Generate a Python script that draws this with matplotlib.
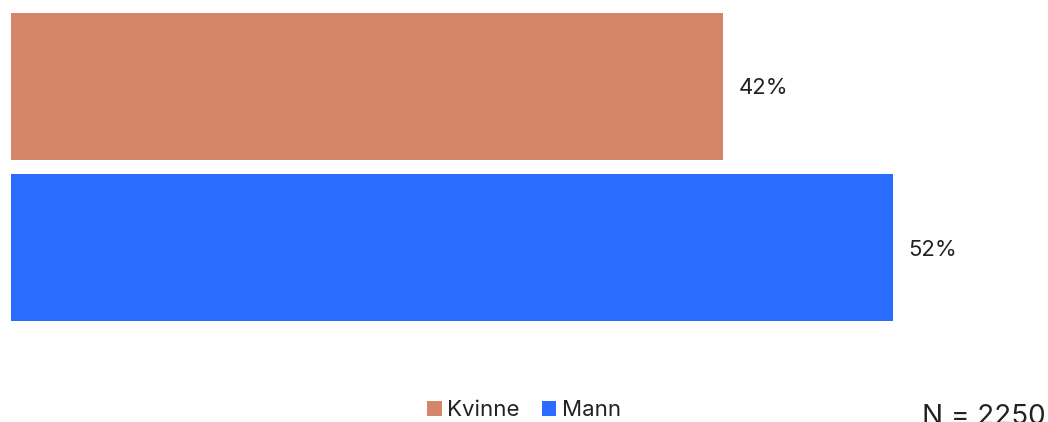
import matplotlib
matplotlib.use("Agg")
import matplotlib.pyplot as plt
from matplotlib.patches import Patch

categories = ["Kvinne", "Mann"]
values = [42, 52]
colors = ["#D5866A", "#296CFF"]
n_label = "N = 2250"

plt.rcParams['font.family'] = ['Inter', 'DejaVu Sans']

W, H = 1048, 422
fig = plt.figure(figsize=(W / 100, H / 100), dpi=100)
fig.patch.set_facecolor("white")

# axes covering pixel x 11..1048, full height
ax = fig.add_axes([11 / W, 0, 1 - 11 / W, 1])
px_per_unit_x = 16.96
ax.set_xlim(0, (W - 11) / px_per_unit_x)
spacing = 161.0
ax.set_ylim(1 + (H - 247.5) / spacing, -86.5 / spacing)

ypos = list(range(len(categories)))
bars = ax.barh(ypos, values, height=147 / spacing, color=colors, edgecolor="none")
for y, v in zip(ypos, values):
    ax.annotate(f"{v}%", xy=(v, y), xytext=(15, -2), textcoords="offset pixels",
                va="center", ha="left", fontsize=16, color="#222222")
ax.axis("off")

handles = [Patch(facecolor=c, edgecolor="none", label=l) for c, l in zip(colors, categories)]
fig.legend(handles=handles, loc="lower center", bbox_to_anchor=(0.5, -0.043), ncol=2,
           frameon=False, fontsize=16, handlelength=0.65, handleheight=0.65,
           handletextpad=0.25, columnspacing=1.0, labelcolor="#222222")

fig.text(922 / W, 1 - 404 / H, n_label, ha="left", va="top", fontsize=20, color="#222222")

fig.savefig("out.png", dpi=100, facecolor="white")
